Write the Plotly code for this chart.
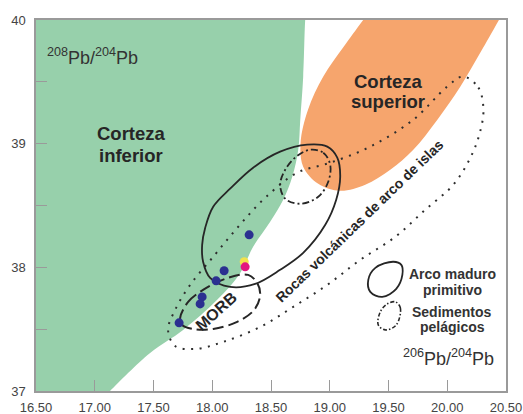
import plotly.graph_objects as go

# ---- axis ticks ----
x_tick_vals = [16.5, 17.0, 17.5, 18.0, 18.5, 19.0, 19.5, 20.0, 20.5]
x_tick_text = ["16.50", "17.00", "17.50", "18.00", "18.50", "19.00", "19.50", "20.00", "20.50"]
y_tick_vals = [37.0, 37.5, 38.0, 38.5, 39.0, 39.5, 40.0]
y_tick_text = ["37", "", "38", "", "39", "", "40"]

# ---- lower crust (green) boundary, top to bottom ----
green_x = [18.80, 18.791, 18.774, 18.749, 18.732, 18.681, 18.604, 18.493, 18.348, 18.238, 18.042, 17.752, 17.471, 17.130, 17.05]
green_y = [40.10, 40.00, 39.543, 39.194, 38.951, 38.733, 38.547, 38.368, 38.166, 37.955, 37.737, 37.494, 37.308, 37.00, 36.92]

# ---- upper crust (orange) outline ----
orange_x = [19.80, 20.83, 20.452, 20.282, 20.112, 19.916, 19.711, 19.515, 19.302, 19.089, 18.902, 18.774, 18.752, 18.815, 18.945, 19.120, 19.300, 19.80]
orange_y = [40.65, 40.65, 40.02, 39.737, 39.462, 39.194, 38.951, 38.789, 38.668, 38.619, 38.676, 38.814, 39.008, 39.275, 39.543, 39.785, 40.02, 40.65]

# ---- island-arc volcanic rocks (dotted) ----
arc_x = [20.137, 20.265, 20.308, 20.273, 20.197, 20.052, 19.813, 19.558, 19.260, 18.979, 18.689, 18.408, 18.093, 17.854, 17.684, 17.624, 17.684, 17.812, 18.008, 18.221, 18.451, 18.723, 19.004, 19.345, 19.711, 20.001, 20.137]
arc_y = [39.543, 39.453, 39.275, 39.073, 38.887, 38.668, 38.466, 38.247, 38.061, 37.858, 37.680, 37.518, 37.397, 37.340, 37.364, 37.494, 37.656, 37.858, 38.085, 38.328, 38.563, 38.765, 38.846, 38.976, 39.194, 39.462, 39.543]

# ---- mature / primitive arc (solid) ----
mature_x = [18.808, 18.979, 19.064, 19.089, 19.055, 18.962, 18.774, 18.578, 18.365, 18.152, 17.982, 17.922, 17.914, 17.940, 18.008, 18.152, 18.348, 18.578, 18.808]
mature_y = [38.992, 38.976, 38.887, 38.733, 38.547, 38.344, 38.117, 37.980, 37.866, 37.842, 37.915, 38.045, 38.182, 38.320, 38.490, 38.636, 38.806, 38.935, 38.992]

# ---- pelagic sediments (dash-dot) ----
pelagic_x = [18.834, 18.945, 19.004, 18.987, 18.902, 18.749, 18.621, 18.578, 18.621, 18.715, 18.834]
pelagic_y = [38.951, 38.927, 38.830, 38.692, 38.571, 38.514, 38.555, 38.668, 38.789, 38.895, 38.951]

# ---- MORB (dashed) ----
morb_x = [17.727, 17.795, 17.922, 18.135, 18.306, 18.382, 18.408, 18.357, 18.212, 18.008, 17.837, 17.744, 17.727]
morb_y = [37.591, 37.721, 37.818, 37.915, 37.939, 37.874, 37.777, 37.656, 37.559, 37.502, 37.502, 37.534, 37.591]

# ---- key symbols ----
key_solid_x = [19.541, 19.609, 19.618, 19.566, 19.447, 19.345, 19.328, 19.388, 19.541]
key_solid_y = [38.045, 38.020, 37.939, 37.826, 37.761, 37.802, 37.899, 37.996, 38.045]
key_dd_x = [19.558, 19.601, 19.566, 19.473, 19.413, 19.430, 19.490, 19.558]
key_dd_y = [37.721, 37.672, 37.534, 37.494, 37.534, 37.640, 37.704, 37.721]

# ---- samples ----
blue_x = [18.314, 18.101, 18.033, 17.914, 17.897, 17.718]
blue_y = [38.263, 37.972, 37.891, 37.761, 37.704, 37.551]
yellow_x = [18.272]
yellow_y = [38.045]
magenta_x = [18.280]
magenta_y = [38.004]

GREEN = "#97d0ab"
ORANGE = "#f6a56d"
INK = "#262626"
FONT = "Liberation Sans, Arial, sans-serif"

fig = go.Figure()

fig.add_trace(go.Scatter(x=green_x, y=green_y, mode="lines", fill="tozerox",
                         fillcolor=GREEN, line=dict(width=0, shape="spline", simplify=False),
                         hoverinfo="skip"))
fig.add_trace(go.Scatter(x=orange_x, y=orange_y, mode="lines", fill="toself",
                         fillcolor=ORANGE, line=dict(width=0, shape="spline", simplify=False),
                         hoverinfo="skip"))

def outline(xs, ys, dash, width, color=INK):
    fig.add_trace(go.Scatter(x=xs, y=ys, mode="lines",
                             line=dict(color=color, width=width, dash=dash,
                                       shape="spline", simplify=False),
                             hoverinfo="skip"))

outline(arc_x, arc_y, "2px,6.5px", 2, "#2e2e2e")
outline(mature_x, mature_y, "solid", 1.8)
outline(pelagic_x, pelagic_y, "7px,3px,2px,3px", 1.8)
outline(morb_x, morb_y, "11px,5px", 2)
outline(key_solid_x, key_solid_y, "solid", 1.8)
outline(key_dd_x, key_dd_y, "4px,2px,1.5px,2px", 1.6)

fig.add_trace(go.Scatter(x=blue_x, y=blue_y, mode="markers",
                         marker=dict(size=9, color="#2b3090"), hoverinfo="skip"))
fig.add_trace(go.Scatter(x=yellow_x, y=yellow_y, mode="markers",
                         marker=dict(size=9, color="#f2e24c"), hoverinfo="skip"))
fig.add_trace(go.Scatter(x=magenta_x, y=magenta_y, mode="markers",
                         marker=dict(size=9, color="#e3177f"), hoverinfo="skip"))

def label(x, y, text, size, bold=True, angle=0, color=INK):
    t = "<b>%s</b>" % text if bold else text
    fig.add_annotation(x=x, y=y, xref="x", yref="y", text=t, showarrow=False,
                       textangle=angle, font=dict(family=FONT, size=size, color=color),
                       xanchor="center", yanchor="middle")

label(17.309, 39.081, "Corteza", 18.5)
label(17.309, 38.903, "inferior", 18.5)
label(19.498, 39.502, "Corteza", 18.5)
label(19.498, 39.340, "superior", 18.5)
label(19.251, 38.377, "Rocas volcánicas de arco de islas", 14, angle=-44)
label(18.033, 37.640, "MORB", 16, angle=-42)
label(20.043, 37.947, "Arco maduro", 14, color="#333333")
label(20.043, 37.818, "primitivo", 14, color="#333333")
label(20.043, 37.640, "Sedimentos", 14, color="#333333")
label(20.043, 37.518, "pelágicos", 14, color="#333333")
label(16.981, 39.704, "<sup>208</sup>Pb/<sup>204</sup>Pb", 18, bold=False, color="#333333")
label(20.009, 37.267, "<sup>206</sup>Pb/<sup>204</sup>Pb", 18, bold=False, color="#333333")

axis_common = dict(showgrid=False, zeroline=False, showline=True, linecolor="#9a9a9a",
                   linewidth=1.5, mirror=True, ticks="inside", ticklen=11,
                   tickcolor="#9a9a9a", tickwidth=1, automargin=False,
                   tickfont=dict(family=FONT, size=13, color="#444444"))

fig.update_layout(
    width=523, height=414, autosize=False,
    margin=dict(l=36, r=17, t=20, b=23, autoexpand=False),
    paper_bgcolor="white", plot_bgcolor="white",
    showlegend=False, hovermode=False,
    xaxis=dict(range=[16.5, 20.5], tickmode="array", tickvals=x_tick_vals,
               ticktext=x_tick_text, ticklabelstandoff=4, **axis_common),
    yaxis=dict(range=[37, 40], tickmode="array", tickvals=y_tick_vals,
               ticktext=y_tick_text, ticklabelstandoff=6, **axis_common),
)

fig.write_html("out.html", config={"displayModeBar": False},
               post_script="document.body.style.margin='0';document.body.style.overflow='hidden';")
